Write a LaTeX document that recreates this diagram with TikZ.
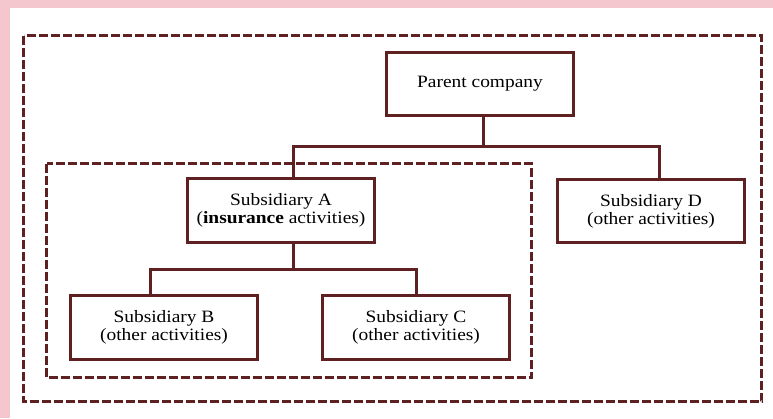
\documentclass[tikz,border=0pt]{standalone}
\usepackage{fontspec}
\setmainfont{Liberation Serif}[FakeStretch=1.12]
\usetikzlibrary{calc}
\definecolor{orgred}{RGB}{94,32,32}
\definecolor{pinkbg}{RGB}{244,199,207}
\tikzset{
  orgbox/.style={draw=orgred, line width=2.25pt, fill=white, minimum width=140pt, minimum height=47.5pt, inner sep=0pt, align=center, font=\fontsize{13}{13.5}\selectfont},
  link/.style={draw=orgred, line width=2.25pt},
  group/.style={draw=orgred, line width=2.25pt, dash pattern=on 6.75pt off 2.25pt}
}
\begin{document}
\begin{tikzpicture}[x=0.75pt,y=-0.75pt]
\useasboundingbox (0,0) rectangle (773,418);
\fill[pinkbg] (0,0) rectangle (773,418);
\fill[white] (10,8) rectangle (773,418);
\draw[group] (23.5,35.5) rectangle (761.5,401.5);
\draw[group] (46.5,163.5) rectangle (531.5,377.5);
\coordinate (j1) at (483,146);
\coordinate (j2) at (293,269);
\node[orgbox] (parent) at (480,84) {Parent company};
\node[orgbox] (A) at (281,210.5) {Subsidiary A\\(\textbf{insurance} activities)};
\node[orgbox] (D) at (651,211) {Subsidiary D\\(other activities)};
\node[orgbox] (B) at (164,327.5) {Subsidiary B\\(other activities)};
\node[orgbox] (C) at (416,327.5) {Subsidiary C\\(other activities)};
\draw[link] ($(parent.south)+(3,0)$) -- (j1);
\draw[link] ($(A.north)+(12,0)$) |- (j1) -| ($(D.north)+(8,0)$);
\draw[link] ($(A.south)+(12,0)$) -- (j2);
\draw[link] ($(B.north)+(-14,0)$) |- (j2) -| (C.north);
\end{tikzpicture}
\end{document}
